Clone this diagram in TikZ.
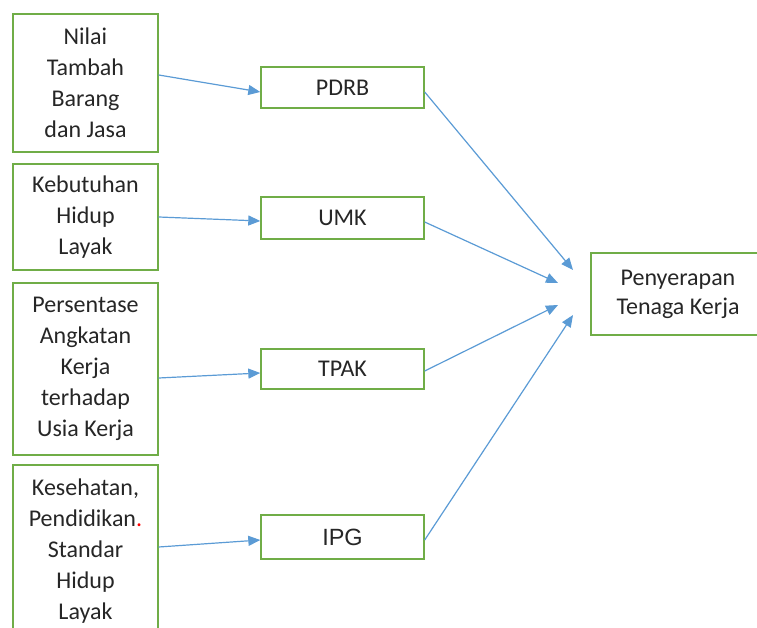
\documentclass[tikz,border=0pt]{standalone}
\usepackage{fontspec}
\setmainfont{Carlito}
\newfontfamily\arialfont{Liberation Sans}
\usetikzlibrary{arrows.meta}
\definecolor{boxgreen}{RGB}{112,173,71}
\definecolor{arrowblue}{RGB}{91,155,213}
\definecolor{txt}{RGB}{38,38,38}
\begin{document}
\begin{tikzpicture}[x=1pt,y=-1pt,
  box/.style={draw=boxgreen,line width=1.4pt,rectangle,inner sep=0pt,align=center,text=txt,
    font=\fontsize{24}{31}\selectfont},
  src/.style={box,minimum width=145pt},
  mid/.style={box,minimum width=163pt},
  arr/.style={draw=arrowblue,line width=1.2pt,-{Triangle[length=12pt,width=10pt]}}]
\useasboundingbox (0,0) rectangle (757,628);
% left boxes
\node[src,minimum height=138pt] (b1) at (85.5,83) {Nilai\\Tambah\\Barang\\dan Jasa};
\node[src,minimum height=106pt] (b2) at (85.5,217) {Kebutuhan\\Hidup\\Layak};
\node[src,minimum height=172pt] (b3) at (85.5,369) {Persentase\\Angkatan\\Kerja\\terhadap\\Usia Kerja};
\node[src,minimum height=173pt] (b4) at (85.5,551.5) {Kesehatan,\\Pendidikan{\color{red}.}\\Standar\\Hidup\\Layak};
% middle boxes
\node[mid,minimum height=41pt] (pdrb) at (342.5,87.5) {PDRB};
\node[mid,minimum height=42pt] (umk) at (342.5,218) {UMK};
\node[mid,minimum height=40pt] (tpak) at (342.5,369) {TPAK};
\node[mid,minimum height=44pt,font=\arialfont\fontsize{23.5}{28}\selectfont] (ipg) at (342.5,537) {IPG};
% right box
\node[box,minimum width=174pt,minimum height=82pt,font=\fontsize{24}{29}\selectfont] (pt) at (678,294) {Penyerapan\\Tenaga Kerja};
% arrow tips
\coordinate (t1) at (573,270);
\coordinate (t2) at (558,283);
\coordinate (t3) at (558,305);
\coordinate (t4) at (573,315);
% connectors
\draw[arr] ([yshift=8pt]b1.east) -- ([yshift=-4.5pt]pdrb.west);
\draw[arr] (b2.east) -- ([yshift=-3pt]umk.west);
\draw[arr] ([yshift=-9pt]b3.east) -- ([yshift=-4pt]tpak.west);
\draw[arr] ([yshift=4.5pt]b4.east) -- ([yshift=-3pt]ipg.west);
\draw[arr] ([yshift=-4.5pt]pdrb.east) -- (t1);
\draw[arr] ([yshift=-4pt]umk.east) -- (t2);
\draw[arr] ([yshift=-2pt]tpak.east) -- (t3);
\draw[arr] ([yshift=-3pt]ipg.east) -- (t4);
\end{tikzpicture}
\end{document}
